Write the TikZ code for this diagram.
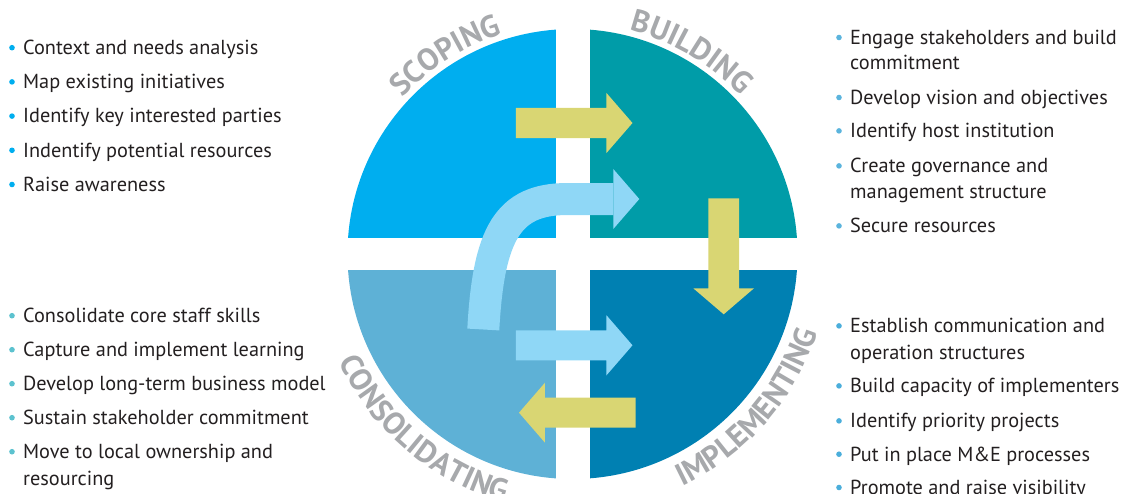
\documentclass[tikz,border=0pt]{standalone}
\usepackage{fontspec}
\setmainfont{PT Sans}
\usetikzlibrary{decorations.text}
\definecolor{qtl}{HTML}{00AEEF}
\definecolor{qtr}{HTML}{009CA8}
\definecolor{qbl}{HTML}{5EB1D6}
\definecolor{qbr}{HTML}{0080B2}
\definecolor{ayel}{HTML}{D9D673}
\definecolor{ablu}{HTML}{8FD7F6}
\definecolor{lbl}{HTML}{A7A9AC}
\definecolor{txt}{HTML}{231F20}
\definecolor{btl}{HTML}{00AEEF}
\definecolor{bbl}{HTML}{5CC2CF}
\definecolor{btr}{HTML}{5BB4DD}
\definecolor{bbr}{HTML}{4BAEDB}
\newcommand{\lblfont}{\fontsize{31}{31}\selectfont\bfseries\color{lbl}}
\newcommand{\bitem}[5]{%
  \node[item] (#1) at (#3-572.5,254-#4) {#5};
  \fill[#2] ([xshift=-11pt,yshift=6.8pt]#1.base west) circle (2.8);
}
\begin{document}
\begin{tikzpicture}[x=1pt,y=1pt,
  item/.style={anchor=base west,inner sep=0pt,text=txt,font=\fontsize{20.3}{20.3}\selectfont}]
\useasboundingbox (-572.5,-239) rectangle (549.5,254);
% quadrants
\begin{scope}
  \clip (0,0) circle (225);
  \fill[qtl] (-16.5,16) rectangle (-240,240);
  \fill[qtr] (17.5,16) rectangle (240,240);
  \fill[qbl] (-16.5,-16) rectangle (-240,-240);
  \fill[qbr] (17.5,-16) rectangle (240,-240);
\end{scope}
% arrows
\fill[ayel] (-56.5,116) -- (34,116) -- (34,101) -- (60,131) -- (34,161) -- (34,146) -- (-56.5,146) -- cycle;
\fill[ablu] (-56.5,-106.3) -- (34,-106.3) -- (34,-121.3) -- (60,-91.3) -- (34,-61.3) -- (34,-76.3) -- (-56.5,-76.3) -- cycle;
\fill[ayel] (135.8,55.7) -- (166.5,55.7) -- (166.5,-34.3) -- (181.5,-34.3) -- (151.2,-60.3) -- (120.8,-34.3) -- (135.8,-34.3) -- cycle;
\fill[ayel] (63.2,-173.7) -- (-27.5,-173.7) -- (-27.5,-188.7) -- (-53.5,-158.7) -- (-27.5,-128.7) -- (-27.5,-143.7) -- (63.2,-143.7) -- cycle;
\draw[ablu,line width=32] (-89.2,-75.5) .. controls (-84,20) and (-65,55) .. (-5,55) -- (41,55);
\fill[ablu] (40.8,25) -- (66.8,55) -- (40.8,85) -- cycle;
% curved labels
\path[decorate,decoration={text along path,text align=center,text={|\lblfont|SCOPING}}]
  (162.6:231) arc[start angle=162.6,end angle=82.6,radius=231];
\path[decorate,decoration={text along path,text align=center,text={|\lblfont|BUILDING}}]
  (99.5:231) arc[start angle=99.5,end angle=19.5,radius=231];
\path[decorate,decoration={text along path,text align=center,text={|\lblfont|CONSOLIDATING}}]
  (184.7:257) arc[start angle=184.7,end angle=274.7,radius=257];
\path[decorate,decoration={text along path,text align=center,text={|\lblfont|IMPLEMENTING}}]
  (273.8:257) arc[start angle=273.8,end angle=363.8,radius=257];
% left top list
\bitem{a1}{btl}{23}{54.5}{Context and needs analysis}
\bitem{a2}{btl}{23}{88.7}{Map existing initiatives}
\bitem{a3}{btl}{23}{122.9}{Identify key interested parties}
\bitem{a4}{btl}{23}{157.1}{Indentify potential resources}
\bitem{a5}{btl}{23}{191.3}{Raise awareness}
% left bottom list
\bitem{d1}{bbl}{23}{322.5}{Consolidate core staff skills}
\bitem{d2}{bbl}{23}{356.5}{Capture and implement learning}
\bitem{d3}{bbl}{23}{390.5}{Develop long-term business model}
\bitem{d4}{bbl}{23}{424.5}{Sustain stakeholder commitment}
\bitem{d5}{bbl}{23}{458.5}{Move to local ownership and}
\node[item] (d5b) at (23-572.5,254-485.3) {resourcing};
% right top list
\bitem{b1}{btr}{850}{44.3}{Engage stakeholders and build}
\node[item] (b1b) at (850-572.5,254-69.3) {commitment};
\bitem{b2}{btr}{850}{104.3}{Develop vision and objectives}
\bitem{b3}{btr}{850}{137.7}{Identify host institution}
\bitem{b4}{btr}{850}{172.7}{Create governance and}
\node[item] (b4b) at (850-572.5,254-198.7) {management structure};
\bitem{b5}{btr}{850}{232.7}{Secure resources}
% right bottom list
\bitem{c1}{bbr}{850}{332.7}{Establish communication and}
\node[item] (c1b) at (850-572.5,254-359.3) {operation structures};
\bitem{c2}{bbr}{850}{392.7}{Build capacity of implementers}
\bitem{c3}{bbr}{850}{427.7}{Identify priority projects}
\bitem{c4}{bbr}{850}{461}{Put in place M\&E processes}
\bitem{c5}{bbr}{850}{494.3}{Promote and raise visibility}
\end{tikzpicture}
\end{document}
